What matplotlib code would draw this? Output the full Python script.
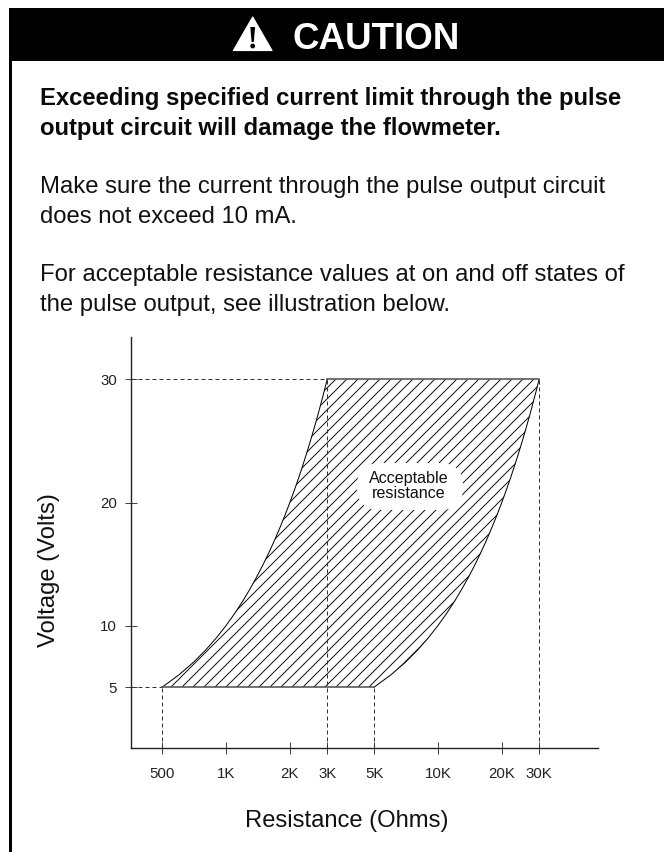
import matplotlib
matplotlib.use("Agg")
import matplotlib.pyplot as plt
from matplotlib.patches import Polygon, Rectangle, Ellipse, FancyBboxPatch
from matplotlib.ticker import NullLocator

W, H, DPI = 664, 852, 132
plt.rcParams['font.family'] = ['Liberation Sans', 'DejaVu Sans']
plt.rcParams['hatch.linewidth'] = 0.5

# Data
resistance_ticks = [500, 1000, 2000, 3000, 5000, 10000, 20000, 30000]
resistance_labels = ['500', '1K', '2K', '3K', '5K', '10K', '20K', '30K']
voltage_ticks = [5, 10, 20, 30]
voltage_levels = [5, 6, 7, 8, 9, 10, 11, 12, 13, 14, 15, 16, 17, 18, 19, 20, 21, 22, 23, 24, 25, 26, 27, 28, 29, 30]
min_resistance = [500, 600, 700, 800, 900, 1000, 1100, 1200, 1300, 1400, 1500, 1600, 1700, 1800, 1900, 2000,
                  2100, 2200, 2300, 2400, 2500, 2600, 2700, 2800, 2900, 3000]
max_resistance = [5000, 6000, 7000, 8000, 9000, 10000, 11000, 12000, 13000, 14000, 15000, 16000, 17000, 18000,
                  19000, 20000, 21000, 22000, 23000, 24000, 25000, 26000, 27000, 28000, 29000, 30000]
guide_resistances = [500, 3000, 5000, 30000]

def pt(px):
    return px * 72 / DPI

fig = plt.figure(figsize=(W / DPI, H / DPI), dpi=DPI)
bg = fig.add_axes([0, 0, 1, 1])
bg.set_xlim(0, W); bg.set_ylim(H, 0); bg.axis('off')

# Banner and frame
bg.add_patch(Rectangle((9, 8), W - 9, 53, fc='black', ec='none'))
bg.add_patch(Rectangle((9, 8), 3.2, H - 8, fc='black', ec='none'))
bg.add_patch(Polygon([(252.7, 17), (272, 50.5), (233.4, 50.5)], closed=True, fc='white', ec='white', lw=pt(1.2), joinstyle='round'))
bg.add_patch(Polygon([(250.3, 27), (255.1, 27), (253.8, 42), (251.6, 42)], closed=True, fc='black', ec='none'))
bg.add_patch(Ellipse((252.7, 46), 4.8, 4.8, fc='black', ec='none'))
bg.text(292, 49, 'CAUTION', color='white', fontsize=pt(36.8), fontweight='bold', va='baseline', ha='left')

bg.text(40, 105, 'Exceeding specified current limit through the pulse', fontsize=pt(23.9), fontweight='bold', va='baseline', color='#0a0a0a')
bg.text(40, 135, 'output circuit will damage the flowmeter.', fontsize=pt(23.9), fontweight='bold', va='baseline', color='#0a0a0a')
bg.text(40, 193.5, 'Make sure the current through the pulse output circuit', fontsize=pt(23.9), va='baseline', color='#111111')
bg.text(40, 223, 'does not exceed 10 mA.', fontsize=pt(23.9), va='baseline', color='#111111')
bg.text(40, 281, 'For acceptable resistance values at on and off states of', fontsize=pt(23.9), va='baseline', color='#111111')
bg.text(40, 310.5, 'the pulse output, see illustration below.', fontsize=pt(23.9), va='baseline', color='#111111')

# Chart axes: pixel box x 131-598, y 337-748
ax = fig.add_axes([131 / W, 1 - 748 / H, (598 - 131) / W, (748 - 337) / H])
ax.patch.set_alpha(0)
ax.set_xscale('log')
ax.set_xlim(356, 56900)
ax.set_ylim(0.05, 33.45)
for s in ('top', 'right'):
    ax.spines[s].set_visible(False)
for s in ('left', 'bottom'):
    ax.spines[s].set_linewidth(pt(1.4))
    ax.spines[s].set_color('#222222')
ax.xaxis.set_minor_locator(NullLocator())
ax.set_xticks(resistance_ticks, resistance_labels)
ax.set_yticks(voltage_ticks)
ax.tick_params(axis='both', which='major', direction='inout', length=pt(12), width=pt(1), color='#444444',
               labelsize=pt(15), labelcolor='#222222')
ax.tick_params(axis='x', pad=pt(13))
ax.tick_params(axis='y', pad=pt(8))

# Acceptable region
xs = min_resistance + max_resistance[::-1]
ys = voltage_levels + voltage_levels[::-1]
ax.fill(xs, ys, fc='none', ec='black', lw=0, hatch='////', zorder=1)
ax.plot(min_resistance, voltage_levels, color='black', lw=pt(1), zorder=3)
ax.plot(max_resistance, voltage_levels, color='black', lw=pt(1), zorder=3)
ax.plot([min_resistance[0], max_resistance[0]], [5, 5], color='#555555', lw=pt(1.6), zorder=3)
ax.plot([min_resistance[-1], max_resistance[-1]], [30, 30], color='#555555', lw=pt(1.6), zorder=3)

# Guides
dash = (0, (4, 3))
for r in guide_resistances:
    top_v = 30 if r in (3000, 30000) else 5
    ax.plot([r, r], [0.05, top_v], color='#333333', lw=pt(1), ls=dash, zorder=2)
ax.plot([356, 3000], [30, 30], color='#333333', lw=pt(1), ls=dash, zorder=2)
ax.plot([356, 500], [5, 5], color='#333333', lw=pt(1), ls=dash, zorder=2)

# Label with white cut-out
top = fig.add_axes([0, 0, 1, 1]); top.set_xlim(0, W); top.set_ylim(H, 0); top.axis('off')
top.add_patch(FancyBboxPatch((380, 486), 60, 1, boxstyle='round,pad=23,rounding_size=23', fc='white', ec='none'))
top.text(408.5, 483, 'Acceptable', fontsize=pt(16.2), ha='center', va='baseline', color='#111111')
top.text(408.5, 498, 'resistance', fontsize=pt(16.2), ha='center', va='baseline', color='#111111')
top.text(245, 826.7, 'Resistance (Ohms)', fontsize=pt(23.8), ha='left', va='baseline', color='#111111')
top.text(55, 570, 'Voltage (Volts)', fontsize=pt(23.8), ha='center', va='baseline', rotation=90,
         rotation_mode='anchor', color='#111111')

fig.savefig('out.png', dpi=DPI)
